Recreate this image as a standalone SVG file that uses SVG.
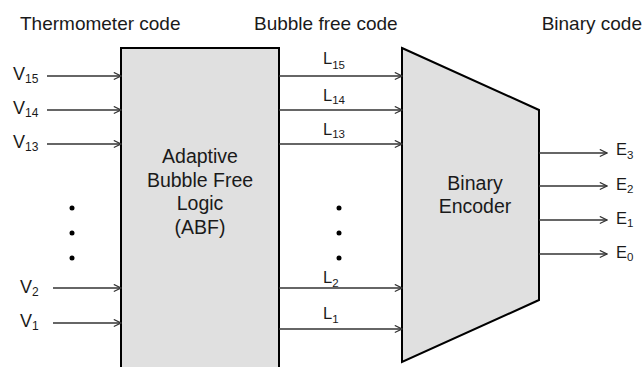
<svg xmlns="http://www.w3.org/2000/svg" width="644" height="367" viewBox="0 0 644 367">
<defs>
<marker id="arr" viewBox="0 0 10 10" refX="9" refY="5" markerWidth="9" markerHeight="9" markerUnits="userSpaceOnUse" orient="auto">
<path d="M1,1 L9,5 L1,9" fill="none" stroke="#333" stroke-width="1.3"/>
</marker>
<style>
text{font-family:"Liberation Sans",Arial,sans-serif;fill:#1a1a1a}
.t{font-size:19px}
.m{font-size:19.5px;text-anchor:middle}
.b{font-size:18px}
.s{font-size:12px}
.l{font-size:16.5px}
.ls{font-size:11.5px}
.c{stroke:#333;stroke-width:1.5;fill:none;marker-end:url(#arr)}
.blk{fill:#e0e0e0;stroke:#000;stroke-width:2}
</style>
</defs>
<rect width="644" height="367" fill="#fff"/>
<g id="titles">
<text class="t" x="20" y="30">Thermometer code</text>
<text class="t" x="254" y="30">Bubble free code</text>
<text class="t" x="642" y="30" text-anchor="end" font-size="18.5">Binary code</text>
</g>
<g id="abf">
<rect class="blk" x="121" y="48" width="158" height="330"/>
<text class="m" x="200" y="163">Adaptive</text>
<text class="m" x="200" y="187">Bubble Free</text>
<text class="m" x="200" y="210">Logic</text>
<text class="m" x="200" y="234">(ABF)</text>
</g>
<g id="encoder">
<polygon class="blk" points="402,48 539,110 539,300 402,362"/>
<text class="m" x="475" y="190">Binary</text>
<text class="m" x="475" y="213">Encoder</text>
</g>
<g id="connectors">
<line class="c" x1="47" y1="76" x2="121" y2="76"/>
<line class="c" x1="47" y1="110" x2="121" y2="110"/>
<line class="c" x1="47" y1="144" x2="121" y2="144"/>
<line class="c" x1="53" y1="288" x2="121" y2="288"/>
<line class="c" x1="53" y1="323" x2="121" y2="323"/>
<line class="c" x1="279" y1="76" x2="402" y2="76"/>
<line class="c" x1="279" y1="110" x2="402" y2="110"/>
<line class="c" x1="279" y1="144" x2="402" y2="144"/>
<line class="c" x1="279" y1="288" x2="402" y2="288"/>
<line class="c" x1="279" y1="329" x2="402" y2="329"/>
<line class="c" x1="539" y1="153" x2="607" y2="153"/>
<line class="c" x1="539" y1="186" x2="607" y2="186"/>
<line class="c" x1="539" y1="220" x2="607" y2="220"/>
<line class="c" x1="539" y1="254" x2="607" y2="254"/>
</g>
<g id="dots" fill="#000">
<circle cx="72" cy="208" r="2.5"/>
<circle cx="72" cy="233" r="2.5"/>
<circle cx="72" cy="258" r="2.5"/>
<circle cx="339" cy="208" r="2.5"/>
<circle cx="339" cy="233" r="2.5"/>
<circle cx="339" cy="258" r="2.5"/>
</g>
<g id="inputs">
<text class="b" x="13" y="80">V<tspan class="s" dy="3">15</tspan></text>
<text class="b" x="13" y="114">V<tspan class="s" dy="3">14</tspan></text>
<text class="b" x="13" y="148">V<tspan class="s" dy="3">13</tspan></text>
<text class="b" x="20" y="293">V<tspan class="s" dy="3">2</tspan></text>
<text class="b" x="20" y="327">V<tspan class="s" dy="3">1</tspan></text>
</g>
<g id="links">
<text class="l" x="323" y="64">L<tspan class="ls" dy="5">15</tspan></text>
<text class="l" x="323" y="101">L<tspan class="ls" dy="3">14</tspan></text>
<text class="l" x="323" y="135">L<tspan class="ls" dy="3">13</tspan></text>
<text class="l" x="323" y="283">L<tspan class="ls" dy="4">2</tspan></text>
<text class="l" x="323" y="319">L<tspan class="ls" dy="4">1</tspan></text>
</g>
<g id="outputs">
<text class="l" x="616" y="155">E<tspan class="ls" dy="4">3</tspan></text>
<text class="l" x="616" y="190">E<tspan class="ls" dy="3">2</tspan></text>
<text class="l" x="616" y="224">E<tspan class="ls" dy="3">1</tspan></text>
<text class="l" x="616" y="258">E<tspan class="ls" dy="3">0</tspan></text>
</g>
</svg>
